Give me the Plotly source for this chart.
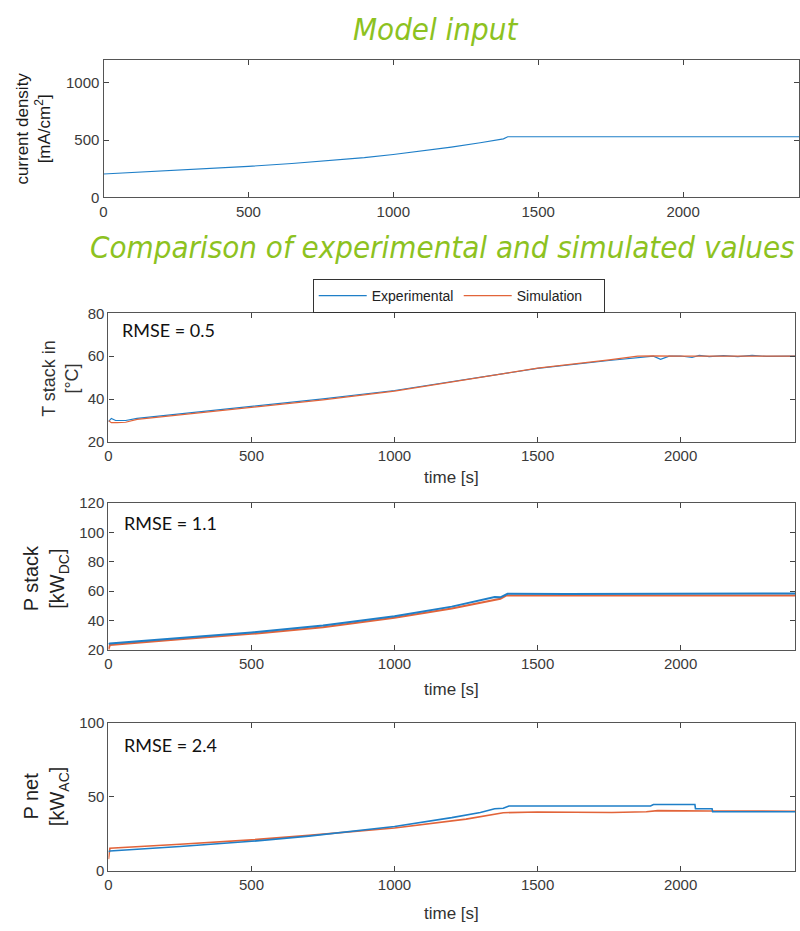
import plotly.graph_objects as go

# ---- data -------------------------------------------------------------
t_cd = [0, 100, 250, 400, 500, 650, 750, 900, 1000, 1100, 1200, 1300, 1350, 1370, 1380, 1395, 1600, 1800, 2000, 2200, 2400]
current_density = [205, 218, 237, 257, 272, 297, 315, 348, 375, 405, 440, 478, 500, 505, 512, 530, 530, 531, 530, 531, 530]

t_temp_exp = [0, 10, 25, 60, 100, 300, 500, 750, 1000, 1250, 1500, 1750, 1880, 1905, 1930, 1960, 2000, 2040, 2065, 2100, 2150, 2200, 2250, 2300, 2400]
temp_exp = [29.5, 31, 30, 30, 31, 33.7, 36.5, 40.1, 44, 49, 54.3, 58, 59.8, 60, 58.5, 60, 60.1, 59.4, 60.4, 59.8, 60.3, 59.8, 60.4, 59.9, 60]
t_temp_sim = [0, 10, 30, 60, 100, 300, 500, 750, 1000, 1250, 1500, 1750, 1850, 1900, 2000, 2400]
temp_sim = [30, 29, 29, 29.2, 30.5, 33.3, 36, 39.6, 43.7, 48.9, 54.4, 58.3, 60, 60.2, 60, 60]

t_pstack_exp = [0, 5, 250, 500, 750, 1000, 1200, 1300, 1350, 1370, 1385, 1395, 1600, 1800, 1900, 2000, 2200, 2400]
pstack_exp = [24, 24.5, 28.2, 32, 36.7, 43, 49.5, 53.5, 56, 55.8, 57.5, 58.2, 58, 58.2, 58.5, 58.2, 58.3, 58.5]
t_pstack_sim = [0, 5, 250, 500, 750, 1000, 1200, 1300, 1350, 1370, 1390, 1600, 2000, 2400]
pstack_sim = [20.5, 23.5, 27.3, 31, 35.5, 42, 48.3, 52.3, 54.5, 54.8, 57, 57, 57, 57]

t_pnet_exp = [0, 5, 250, 500, 700, 1000, 1200, 1300, 1350, 1380, 1400, 1600, 1800, 1895, 1905, 2050, 2052, 2110, 2112, 2300, 2400]
pnet_exp = [13, 13.5, 16.5, 20, 23.5, 30, 36, 39.5, 42, 42.3, 43.8, 43.6, 43.8, 43.8, 44.8, 44.8, 42, 42, 40, 40, 40]
t_pnet_sim = [0, 5, 250, 500, 700, 1000, 1250, 1380, 1500, 1700, 1760, 1880, 1920, 2100, 2400]
pnet_sim = [8, 15.3, 18, 21, 24, 29, 35, 39.3, 39.8, 39.8, 39.4, 40, 40.7, 40.5, 40.3]

rmse_labels = ["RMSE = 0.5", "RMSE = 1.1", "RMSE = 2.4"]
legend_names = ["Experimental", "Simulation"]

# ---- styling ----------------------------------------------------------
W, H = 800, 931
BLUE = "#1f7fc8"
ORANGE = "#e2643a"
GREEN = "#8dc21f"
NARROW = "Liberation Sans Narrow, Arial Narrow, Liberation Sans, Arial"
TICK_FONT = dict(family=NARROW, size=15, color="#3a3a3a")


def px_x(px):
    return px / W


def px_y(py):
    return 1 - py / H


fig = go.Figure()

# (xaxis, yaxis, left, right, top, bottom) in pixels
panels = [
    ("x", "y", 100, 799, 52, 192),
    ("x2", "y2", 105, 795, 310, 441),
    ("x3", "y3", 105, 795, 503, 653),
    ("x4", "y4", 105, 795, 727, 878),
]

fig.add_trace(go.Scatter(x=t_cd, y=current_density, mode="lines", line=dict(color=BLUE, width=1.1),
                         showlegend=False, xaxis="x", yaxis="y"))

fig.add_trace(go.Scatter(x=t_temp_exp, y=temp_exp, mode="lines", name=legend_names[0],
                         line=dict(color=BLUE, width=1.2), xaxis="x2", yaxis="y2"))
fig.add_trace(go.Scatter(x=t_temp_sim, y=temp_sim, mode="lines", name=legend_names[1],
                         line=dict(color=ORANGE, width=1.2), xaxis="x2", yaxis="y2"))

fig.add_trace(go.Scatter(x=t_pstack_sim, y=pstack_sim, mode="lines", showlegend=False,
                         line=dict(color=ORANGE, width=2), xaxis="x3", yaxis="y3"))
fig.add_trace(go.Scatter(x=t_pstack_exp, y=pstack_exp, mode="lines", showlegend=False,
                         line=dict(color=BLUE, width=2), xaxis="x3", yaxis="y3"))

fig.add_trace(go.Scatter(x=t_pnet_sim, y=pnet_sim, mode="lines", showlegend=False,
                         line=dict(color=ORANGE, width=1.6), xaxis="x4", yaxis="y4"))
fig.add_trace(go.Scatter(x=t_pnet_exp, y=pnet_exp, mode="lines", showlegend=False,
                         line=dict(color=BLUE, width=1.6), xaxis="x4", yaxis="y4"))

y_ranges = [[0, 1200], [20, 80], [20, 120], [0, 100]]
y_ticks = [[0, 500, 1000], [20, 40, 60, 80], [20, 40, 60, 80, 100, 120], [0, 50, 100]]

layout = dict(
    width=W, height=H,
    margin=dict(l=0, r=0, t=0, b=0),
    paper_bgcolor="white", plot_bgcolor="white",
    showlegend=True,
    legend=dict(orientation="h", x=px_x(457), xanchor="center", y=px_y(275), yanchor="top",
                bordercolor="#333", borderwidth=1, bgcolor="white",
                font=dict(family=NARROW, size=14, color="#222"),
                itemwidth=48, entrywidth=82, tracegroupgap=0),
)

for i, (xa, ya, l, r, t, b) in enumerate(panels):
    xkey = "xaxis" if xa == "x" else "xaxis" + xa[1:]
    ykey = "yaxis" if ya == "y" else "yaxis" + ya[1:]
    layout[xkey] = dict(
        domain=[px_x(l), px_x(r)], anchor=ya, range=[0, 2400],
        tickvals=[0, 500, 1000, 1500, 2000], ticks="inside", ticklen=5, tickcolor="#444",
        showline=True, linecolor="#555", linewidth=1.3, mirror="ticks",
        showgrid=False, zeroline=False, tickfont=TICK_FONT,
    )
    layout[ykey] = dict(
        domain=[px_y(b), px_y(t)], anchor=xa, range=y_ranges[i],
        tickvals=y_ticks[i], ticks="inside", ticklen=5, tickcolor="#444",
        showline=True, linecolor="#555", linewidth=1.3, mirror="ticks",
        showgrid=False, zeroline=False, tickfont=TICK_FONT,
    )

fig.update_layout(**layout)

# ---- titles -----------------------------------------------------------
title_font = dict(family="DejaVu Sans Condensed, DejaVu Sans", size=31, color=GREEN, style="italic")
fig.add_annotation(text="Model input", x=px_x(434), y=px_y(20), xref="paper", yref="paper",
                   showarrow=False, font=title_font, xanchor="center", yanchor="middle")
fig.add_annotation(text="Comparison of experimental and simulated values", x=px_x(441), y=px_y(242),
                   xref="paper", yref="paper", showarrow=False, font=title_font,
                   xanchor="center", yanchor="middle")

# ---- y-axis titles ----------------------------------------------------
ytitles = [
    ("current density<br>[mA/cm<sup>2</sup>]", 30, 122, dict(family="Liberation Sans, Arial", size=17, color="#1a1a1a")),
    ("T stack in<br>[°C]", 56, 376, dict(family="Liberation Sans, Arial", size=18, color="#333")),
    ("P stack<br>[kW<sub>DC</sub>]", 42, 580, dict(family="Liberation Sans, Arial", size=20, color="#222")),
    ("P net<br>[kW<sub>AC</sub>]", 42, 802, dict(family="Liberation Sans, Arial", size=20, color="#222")),
]
for text, cx, cy, f in ytitles:
    fig.add_annotation(text=text, x=px_x(cx), y=px_y(cy), xref="paper", yref="paper",
                       showarrow=False, textangle=-90, font=f, xanchor="center", yanchor="middle")

# ---- x-axis titles ----------------------------------------------------
for cy in [477, 693, 921]:
    fig.add_annotation(text="time [s]", x=px_x(450), y=px_y(cy), xref="paper", yref="paper",
                       showarrow=False, font=dict(family=NARROW, size=17, color="#333"),
                       xanchor="center", yanchor="middle")

# ---- RMSE labels ------------------------------------------------------
rmse_pos = [(117, 327), (119, 524), (119, 750)]
for text, (lx, ly) in zip(rmse_labels, rmse_pos):
    fig.add_annotation(text=text, x=px_x(lx), y=px_y(ly), xref="paper", yref="paper",
                       showarrow=False, font=dict(family="Lato, Open Sans", size=18, color="#111"),
                       xanchor="left", yanchor="middle")

fig.write_html("out.html")
